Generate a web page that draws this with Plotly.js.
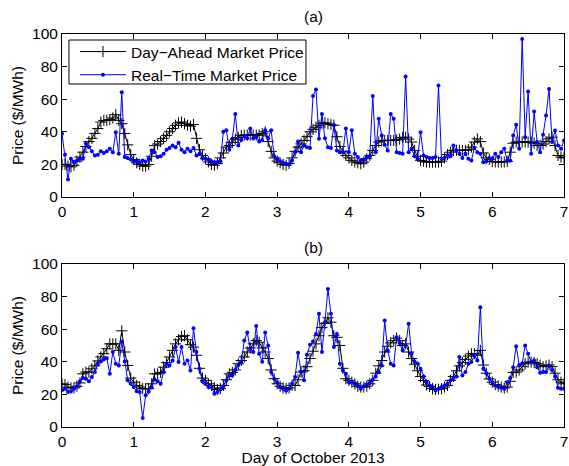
<!DOCTYPE html>
<html>
<head>
<meta charset="utf-8">
<script src="https://cdn.plot.ly/plotly-3.0.1.min.js"></script>
<style>
  html, body { margin: 0; padding: 0; background: #fff; }
  #chart { width: 569px; height: 466px; }
</style>
</head>
<body>
<div id="chart"></div>
<script>
// Hourly prices, 1-7 October 2013 (hour 0 .. 168)
const dayAheadA = [
  20, 20, 19, 18.5, 19.5, 22, 24.5, 27.5, 31, 34,
  36, 39, 42, 46, 47, 47, 47.5, 48.5, 50.5, 47,
  45, 39, 32, 26, 23, 21, 20, 19, 19, 20,
  25, 31.5, 32.5, 34, 36, 37.8, 40, 42, 44, 45.5,
  46, 45, 44, 43.5, 44.5, 36, 29, 25.5, 23.5, 21.5,
  20, 19.5, 20.5, 24, 27, 30.6, 31.6, 33.5, 35.5, 36.5,
  37.8, 38, 38, 38, 38, 38, 38, 39, 40, 34,
  28, 24, 22, 21, 20, 19.5, 20.5, 24, 28, 30.6,
  32.6, 34.7, 37, 40, 41.5, 42.8, 44, 45.3, 45.5, 44.9,
  44.5, 44, 37, 31, 28, 25.5, 24, 22.5, 21.5, 21,
  20.4, 21.4, 23.5, 25.5, 28.6, 31.6, 33.7, 34.5, 34.7, 34.7,
  34.7, 34.7, 35, 35.5, 36.5, 36.7, 35.5, 33.7, 28.6, 25,
  22.5, 22, 21.5, 21.4, 21.4, 21.4, 21.4, 22, 24, 26,
  27.5, 28.6, 28.6, 28.6, 28.6, 28.6, 29, 30.6, 33.7, 35.7,
  34, 27, 24, 23, 21.8, 21.5, 21.5, 21.5, 21.5, 21.8,
  27.5, 33, 33.7, 33.7, 33.7, 33.7, 33.7, 33.7, 33, 31.6,
  31.6, 32.5, 34, 35.7, 36.7, 31.6, 25.5, 24.5, 24
];
const realTimeA = [
  38.8, 26, 10.8, 23.5, 21.4, 22.4, 23.5, 23.5, 32.6, 30.6,
  28, 25.5, 26, 28, 27, 28, 29.6, 27.5, 39.8, 26.5,
  64.3, 24.5, 23.9, 23, 21.8, 22.4, 21.4, 22.4, 21.8, 23.5,
  28.6, 27.5, 24.5, 25, 26.5, 29, 30, 31.6, 30.6, 33.3,
  29, 27.5, 29.6, 28, 30, 25.5, 26.5, 24, 23.5, 23,
  22, 21.4, 21.4, 22, 40, 41, 29, 35.7, 51, 31.6,
  35, 37.5, 36, 42, 36, 37, 34, 35, 41, 36,
  41, 25, 23.5, 22, 21, 20.4, 20, 22.4, 27.5, 34,
  27.5, 31.6, 30.6, 30, 62, 66, 35.7, 51, 36, 30.6,
  30, 44, 28.6, 27.5, 27.5, 42, 27.5, 41, 26.5, 24.5,
  22.4, 23, 24.5, 25, 62, 27.5, 48, 37.8, 32, 28.6,
  51, 48, 27.5, 27, 26.5, 74, 27.5, 29.6, 25, 23.5,
  39.8, 25.5, 24.5, 24, 24, 24.5, 68.4, 23.5, 24, 25.5,
  25, 31.6, 28.6, 26.5, 24, 26.5, 23.5, 22.4, 30, 27.5,
  26.5, 21.4, 21.8, 23.9, 23.5, 26.5, 24.5, 27.5, 29.6, 22.4,
  22.4, 37.8, 44.3, 29.6, 97, 36.7, 64.7, 26.5, 52.4, 33.7,
  27.5, 38.2, 50, 66.3, 33.7, 40.8, 31.6, 29.6, 34.7
];
const dayAheadB = [
  26.5, 26, 24.5, 24, 24, 25, 27, 32.6, 33.7, 33.7,
  35.7, 37.5, 40.5, 43, 45, 48, 51, 51, 51, 47,
  59, 46, 37.8, 30, 27.5, 25.5, 24.5, 23.5, 23.5, 23.5,
  26.5, 32.6, 32.6, 33.5, 36.7, 39.5, 43, 47, 51, 53.5,
  55.5, 56, 53.5, 50.5, 49, 44, 36, 30, 28.6, 26.5,
  25.5, 24, 23, 23.5, 25.5, 29, 32.6, 33.5, 35, 38.8,
  40.8, 43, 46, 48.5, 51, 53, 52, 48.5, 46, 42,
  35, 29.6, 26.5, 25, 24, 23.5, 24, 25.5, 25.5, 29,
  33.7, 34.5, 37, 42, 46.5, 51, 56, 61, 63.5, 67,
  64.3, 56, 55, 50, 36, 29.6, 28.6, 27.5, 26.5, 25,
  24.5, 24.5, 25, 26.5, 28.6, 33, 37.5, 40.8, 46, 49.5,
  51.6, 53, 54.5, 53, 50, 51, 46, 42, 38.5, 34.5,
  31, 28.5, 25.8, 24.8, 23.5, 23, 23.2, 23.5, 24.5, 25.5,
  28.6, 31, 34.5, 37.5, 39.5, 41.5, 43.5, 44.9, 44.9, 44,
  47, 38, 33, 29.5, 27.5, 26, 25.2, 24.5, 23.9, 24.5,
  28, 33.5, 33.7, 35, 37, 38.8, 39.8, 39.8, 39.5, 38.8,
  38, 37, 37.5, 38, 37, 33, 29, 27.5, 26.5
];
const realTimeB = [
  22.5, 23.5, 21.5, 22, 23.5, 25, 28, 30, 29.6, 28,
  30.6, 33.7, 38.8, 40.2, 41.5, 42.2, 32.6, 46, 38.8, 37.8,
  52.4, 40.2, 28.6, 26.5, 24.5, 22, 21.4, 5.5, 19.4, 21.8,
  24.5, 29.2, 28, 26.5, 33.7, 38.8, 37.8, 40.8, 49, 39.8,
  49, 38.8, 40.8, 34.7, 60.6, 46, 35.7, 28, 26.5, 24.5,
  24.5, 20.4, 21.4, 23, 25, 28.5, 31.6, 31.6, 35, 38,
  40, 53, 58, 48, 46, 62, 45, 40, 58, 50,
  33.7, 29.6, 27.5, 24.5, 23.5, 22.4, 23.5, 26.5, 30.6, 45.5,
  33.7, 28.6, 44.3, 50.4, 52.4, 57.1, 69.4, 46, 64.3, 84.7,
  69.4, 49, 57, 38.8, 34.7, 32.6, 27.5, 27.5, 26.5, 25.5,
  23.5, 25, 26, 27, 29, 31, 33.7, 37.8, 65.3, 47,
  38.8, 37.8, 55, 51.6, 47, 50, 63.3, 44.9, 40, 39,
  35.7, 31, 27.5, 25.5, 24.5, 22.4, 23.5, 24.5, 25.5, 26.5,
  28.5, 30, 31, 43, 31.6, 33.7, 38.8, 39.8, 44, 40.8,
  73.5, 35.7, 33, 29.6, 27.5, 25.5, 24.5, 24, 23.5, 27.5,
  30, 36.7, 49.6, 38, 39, 50, 44.9, 39.8, 40.8, 36.7,
  33.3, 33.7, 33.7, 37.8, 35, 31, 24, 23.5, 23.5
];
const seriesNames = ['Day\u2212Ahead Market Price', 'Real\u2212Time Market Price'];
const xTicks = [0, 1, 2, 3, 4, 5, 6, 7];
const yTicks = [0, 20, 40, 60, 80, 100];

// time axis in days: one sample per hour
const days = dayAheadA.map((_, i) => i / 24);

const FONT = 'Liberation Sans, Arial, Helvetica, sans-serif';
const FS = 15.5;
const BLACK = '#000000';
const BLUE = '#0000ff';

function daTrace(y, xa, ya, legend) {
  return {
    x: days, y: y, xaxis: xa, yaxis: ya, type: 'scatter', mode: 'lines+markers',
    name: seriesNames[0], showlegend: legend,
    line: { color: BLACK, width: 1 },
    marker: { symbol: 'cross-thin', size: 8, color: BLACK, line: { color: BLACK, width: 1 } }
  };
}
function rtTrace(y, xa, ya, legend) {
  return {
    x: days, y: y, xaxis: xa, yaxis: ya, type: 'scatter', mode: 'lines+markers',
    name: seriesNames[1], showlegend: legend,
    line: { color: BLUE, width: 1 },
    marker: { symbol: 'circle', size: 4, color: BLUE }
  };
}

const traces = [
  daTrace(dayAheadA, 'x', 'y', true),
  rtTrace(realTimeA, 'x', 'y', true),
  daTrace(dayAheadB, 'x2', 'y2', false),
  rtTrace(realTimeB, 'x2', 'y2', false)
];

function xAxis(domainAnchor) {
  return {
    anchor: domainAnchor, domain: [0, 1], range: [0, 7], tickvals: xTicks,
    showline: true, linecolor: BLACK, linewidth: 1, mirror: 'ticks',
    ticks: 'inside', ticklen: 5, tickcolor: BLACK, showgrid: false, zeroline: false,
    tickfont: { family: FONT, size: FS, color: BLACK }
  };
}
function yAxis(domainAnchor, dom) {
  return {
    anchor: domainAnchor, domain: dom, range: [0, 100], tickvals: yTicks,
    showline: true, linecolor: BLACK, linewidth: 1, mirror: 'ticks',
    ticks: 'inside', ticklen: 5, tickcolor: BLACK, showgrid: false, zeroline: false,
    tickfont: { family: FONT, size: FS, color: BLACK },
    title: { text: 'Price ($/MWh)', font: { family: FONT, size: FS, color: BLACK }, standoff: 4 }
  };
}

const xa2 = xAxis('y2');
xa2.title = { text: 'Day of October 2013', font: { family: FONT, size: FS, color: BLACK }, standoff: 0 };

const layout = {
  width: 569, height: 466,
  margin: { l: 62, r: 5, t: 34, b: 39 },
  paper_bgcolor: '#ffffff', plot_bgcolor: '#ffffff',
  font: { family: FONT, size: FS, color: BLACK },
  xaxis: xAxis('y'),
  yaxis: yAxis('x', [0.5852, 1]),
  xaxis2: xa2,
  yaxis2: yAxis('x2', [0, 0.4148]),
  showlegend: true,
  legend: {
    x: 0.0139, y: 0.9975, xanchor: 'left', yanchor: 'top',
    bgcolor: 'rgba(0,0,0,0)', borderwidth: 0,
    font: { family: FONT, size: FS, color: BLACK },
    itemwidth: 46, indentation: 6
  },
  // white legend frame in the upper panel
  shapes: [
    { type: 'rect', xref: 'paper', yref: 'paper', x0: 0.0139, x1: 0.486, y0: 0.8728, y1: 0.9847,
      fillcolor: '#ffffff', line: { color: BLACK, width: 1 }, layer: 'above' }
  ],
  annotations: [
    { text: '(a)', xref: 'paper', yref: 'paper', x: 0.5, y: 1.0433, xanchor: 'center', yanchor: 'middle',
      showarrow: false, font: { family: FONT, size: FS, color: BLACK } },
    { text: '(b)', xref: 'paper', yref: 'paper', x: 0.5, y: 0.4555, xanchor: 'center', yanchor: 'middle',
      showarrow: false, font: { family: FONT, size: FS, color: BLACK } }
  ]
};

Plotly.newPlot('chart', traces, layout, { staticPlot: true, displayModeBar: false });
</script>
</body>
</html>
